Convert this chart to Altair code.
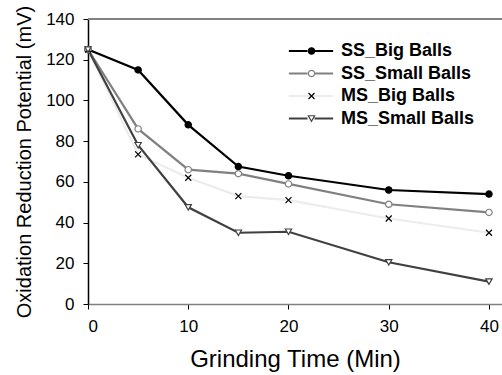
import altair as alt
import pandas as pd

times = [0, 5, 10, 15, 20, 30, 40]
series_names = ["SS_Big Balls", "SS_Small Balls", "MS_Big Balls", "MS_Small Balls"]
ss_big = [125, 115, 88, 67.5, 63, 56, 54]
ss_small = [125, 86, 66, 64, 59, 49, 45]
ms_big = [125, 73.5, 62, 53, 51, 42, 35]
ms_small = [125, 78, 47.5, 35, 35.5, 20.5, 11]

rows = []
for name, vals in zip(series_names, [ss_big, ss_small, ms_big, ms_small]):
    for t, v in zip(times, vals):
        rows.append({"series": name, "time": t, "value": v})
df = pd.DataFrame(rows)

line_colors = ["#000000", "#808080", "#ececec", "#404040"]
marker_colors = ["#000000", "#808080", "#000000", "#404040"]
marker_fills = ["#000000", "#ffffff", "#000000", "#ffffff"]
CROSS = "M-0.95,-0.95L0.95,0.95M0.95,-0.95L-0.95,0.95"
marker_shapes = ["circle", "circle", CROSS, "triangle-down"]
# legend line glyphs (in symbol units), with a gap for the marker
GAP_LINE = "M-7,0H-1.1M1.1,0H7"
FULL_LINE = "M-7,0H7"
legend_line_shapes = [GAP_LINE, GAP_LINE, FULL_LINE, GAP_LINE]
marker_keys = [n + " " for n in series_names]

FONT = "Liberation Sans"
MSIZE = 40

x_enc = alt.X("time:Q", scale=alt.Scale(domain=[0, 41.3], nice=False),
              axis=alt.Axis(values=[0, 10, 20, 30, 40], title="Grinding Time (Min)",
                            grid=False, domainColor="#808080", domainWidth=1.5,
                            tickColor="#000000",
                            tickSize=5, labelFontSize=17, titleFontSize=24,
                            labelPadding=9, titlePadding=13, labelColor="#000000",
                            titleColor="#000000", titleFontWeight="normal",
                            titleLimit=500, labelFont=FONT, titleFont=FONT))
y_enc = alt.Y("value:Q", scale=alt.Scale(domain=[0, 140], nice=False),
              axis=alt.Axis(values=[0, 20, 40, 60, 80, 100, 120, 140],
                            title="Oxidation Reduction Potential (mV)",
                            grid=False, domainColor="#000000", domainWidth=1.5,
                            tickColor="#000000",
                            tickSize=5, labelFontSize=17, labelFlush=False,
                            titleFontSize=20, titleLimit=500,
                            labelPadding=9, titlePadding=11, labelColor="#000000",
                            titleColor="#000000", titleFontWeight="normal",
                            labelFont=FONT, titleFont=FONT))

LEG_X = 214
LEG_Y = 23

lines = alt.Chart(df).mark_line(strokeWidth=2.2).encode(
    x=x_enc, y=y_enc,
    stroke=alt.Stroke("series:N", scale=alt.Scale(domain=series_names, range=line_colors),
                      legend=None),
    order="time:Q",
)

points = alt.Chart(df).mark_point(size=MSIZE, strokeWidth=1.2, opacity=1).encode(
    x="time:Q", y="value:Q",
    color=alt.Color("series:N", scale=alt.Scale(domain=series_names, range=marker_colors),
                    legend=None),
    fill=alt.Fill("series:N", scale=alt.Scale(domain=series_names, range=marker_fills),
                  legend=None),
    shape=alt.Shape("series:N", scale=alt.Scale(domain=series_names, range=marker_shapes),
                    legend=None),
)

top = alt.Chart(df).mark_rule(color="#808080", strokeWidth=1.5).encode(
    x=alt.datum(0), x2=alt.datum(41.3), y=alt.datum(140))

# legend A: line glyphs + labels
legA = dict(orient="none", legendX=LEG_X, legendY=LEG_Y, title=None,
            symbolSize=MSIZE, symbolStrokeWidth=2.2, symbolOpacity=1, labelFontSize=18,
            labelFontWeight="bold", labelFont=FONT, labelColor="#000000",
            rowPadding=4.5, labelOffset=21)
leg_lines = alt.Chart(df).transform_filter("false").mark_point(filled=False, opacity=1).encode(
    x="time:Q", y="value:Q",
    color=alt.Color("series:N", scale=alt.Scale(domain=series_names, range=line_colors),
                    legend=alt.Legend(**legA)),
    shape=alt.Shape("series:N", scale=alt.Scale(domain=series_names, range=legend_line_shapes),
                    legend=alt.Legend(**legA)),
)

# legend B: marker glyphs only (labels invisible), same rows
legB = dict(orient="none", legendX=LEG_X + 0.5, legendY=LEG_Y, title=None,
            symbolSize=MSIZE, symbolStrokeWidth=1.2, symbolOpacity=1, labelFontSize=18,
            labelFontWeight="bold", labelFont=FONT, labelColor="transparent",
            rowPadding=4.5, labelOffset=21)
df_m = df.assign(mkey=df["series"] + " ")
leg_marks = alt.Chart(df_m).transform_filter("false").mark_point(opacity=1).encode(
    x="time:Q", y="value:Q",
    color=alt.Color("mkey:N", scale=alt.Scale(domain=marker_keys, range=marker_colors),
                    legend=alt.Legend(**legB)),
    fill=alt.Fill("mkey:N", scale=alt.Scale(domain=marker_keys, range=marker_fills),
                  legend=alt.Legend(**legB)),
    shape=alt.Shape("mkey:N", scale=alt.Scale(domain=marker_keys, range=marker_shapes),
                    legend=alt.Legend(**legB)),
)

chart = alt.layer(lines, top, points, leg_lines, leg_marks).resolve_scale(
    color="independent", fill="independent", shape="independent", stroke="independent"
).properties(
    width=414, height=285,
    padding={"left": 88, "top": 19, "right": 0, "bottom": 71},
    autosize=alt.AutoSizeParams(type="none"),
    background="#ffffff",
).configure_view(stroke=None)

chart.save("out.html", embed_options={"renderer": "svg", "actions": False})
